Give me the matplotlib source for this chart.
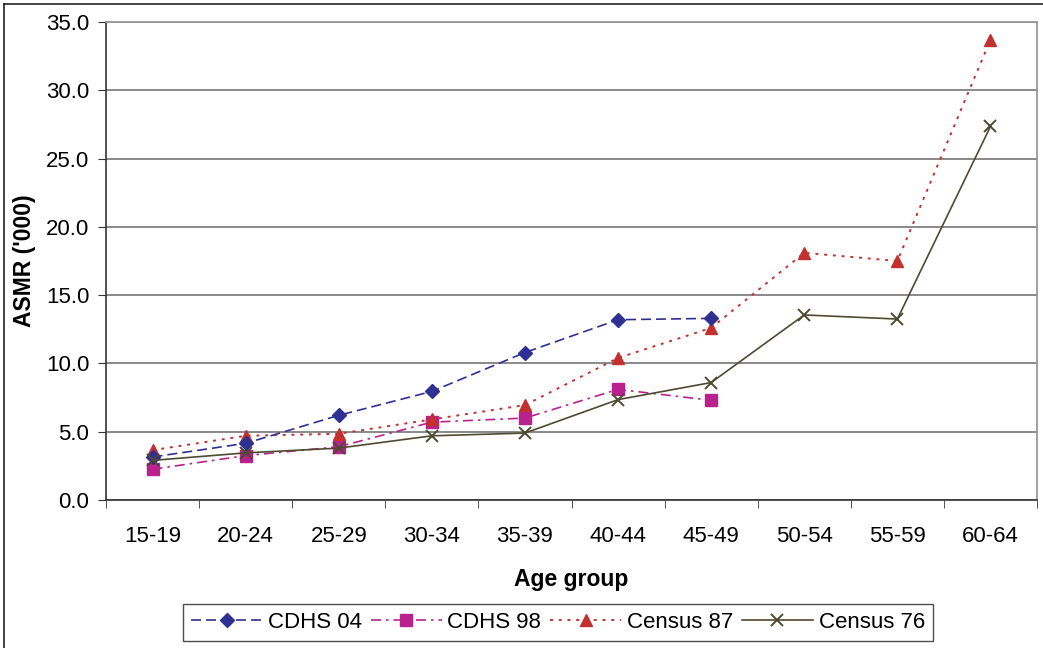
import matplotlib
matplotlib.use("Agg")
import matplotlib.pyplot as plt
from matplotlib.lines import Line2D

plt.rcParams['font.family'] = ['Liberation Sans', 'DejaVu Sans']

age_groups = ["15-19", "20-24", "25-29", "30-34", "35-39", "40-44", "45-49", "50-54", "55-59", "60-64"]
cdhs04 = [3.15, 4.15, 6.2, 7.95, 10.8, 13.2, 13.3]
cdhs98 = [2.25, 3.25, 3.9, 5.7, 6.0, 8.1, 7.3]
census87 = [3.65, 4.7, 4.85, 5.9, 6.95, 10.4, 12.6, 18.1, 17.5, 33.7]
census76 = [2.9, 3.45, 3.8, 4.7, 4.9, 7.35, 8.6, 13.55, 13.25, 27.35]
y_ticks = [0, 5, 10, 15, 20, 25, 30, 35]

W, H = 1043, 648
fig = plt.figure(figsize=(W / 100, H / 100), dpi=100)
ax = fig.add_axes([106 / W, 1 - 500 / H, (1037 - 106) / W, (500 - 22) / H])

x = list(range(len(age_groups)))
ax.plot(x[:len(cdhs04)], cdhs04, color='#2E3192', linestyle=(0, (6, 3)), linewidth=1.2,
        marker='D', markersize=7.5, label='CDHS 04', zorder=4)
ax.plot(x[:len(cdhs98)], cdhs98, color='#B8218E', linestyle=(0, (6, 3, 1.5, 3)), linewidth=1.2,
        marker='s', markersize=8.5, label='CDHS 98', zorder=3)
ax.plot(x, census87, color='#C4302E', linestyle=(0, (1.5, 3)), linewidth=1.4,
        marker='^', markersize=9, label='Census 87', zorder=3)
ax.plot(x, census76, color='#4D4A30', linestyle='-', linewidth=1.2,
        marker='x', markersize=9, markeredgewidth=1.4, label='Census 76', zorder=5)

ax.set_xlim(-0.5, len(age_groups) - 0.5)
ax.set_ylim(0, 35)
ax.set_yticks(y_ticks)
ax.set_yticklabels([f"{v:.1f}" for v in y_ticks], fontsize=16)
ax.set_xticks(x)
ax.set_xticklabels(age_groups, fontsize=16)
ax.tick_params(axis='x', length=0, pad=19)
ax.set_xticks([i - 0.5 for i in range(len(age_groups) + 1)], minor=True)
ax.tick_params(axis='x', which='minor', length=6, direction='out', color='#333333')
ax.tick_params(axis='y', length=6, direction='out', color='#333333', pad=6)

ax.yaxis.grid(True, color='#808080', linewidth=1.3)
ax.set_axisbelow(True)
for s in ['top', 'right']:
    ax.spines[s].set_color('#999999')
    ax.spines[s].set_linewidth(1.3)
for s in ['left', 'bottom']:
    ax.spines[s].set_color('#333333')
    ax.spines[s].set_linewidth(1.2)

ax.set_xlabel('Age group', fontsize=16.5, fontweight='bold', labelpad=15)
ax.set_ylabel("ASMR ('000)", fontsize=16.5, fontweight='bold', labelpad=7)

leg = fig.legend(loc='center', bbox_to_anchor=(558 / W, 1 - 622.5 / H), ncol=4,
                 fontsize=16, frameon=True, fancybox=False, edgecolor='#222222',
                 handlelength=3.2, handletextpad=0.25, columnspacing=0.4,
                 borderpad=0.35)
leg.get_frame().set_linewidth(1.0)

fig.add_artist(Line2D([4 / W, 1], [1 - 4 / H, 1 - 4 / H], transform=fig.transFigure,
                      color='#222222', linewidth=1.2))
fig.add_artist(Line2D([4 / W, 4 / W], [0, 1 - 4 / H], transform=fig.transFigure,
                      color='#222222', linewidth=1.2))

fig.savefig('out.png', dpi=100, facecolor='white')
